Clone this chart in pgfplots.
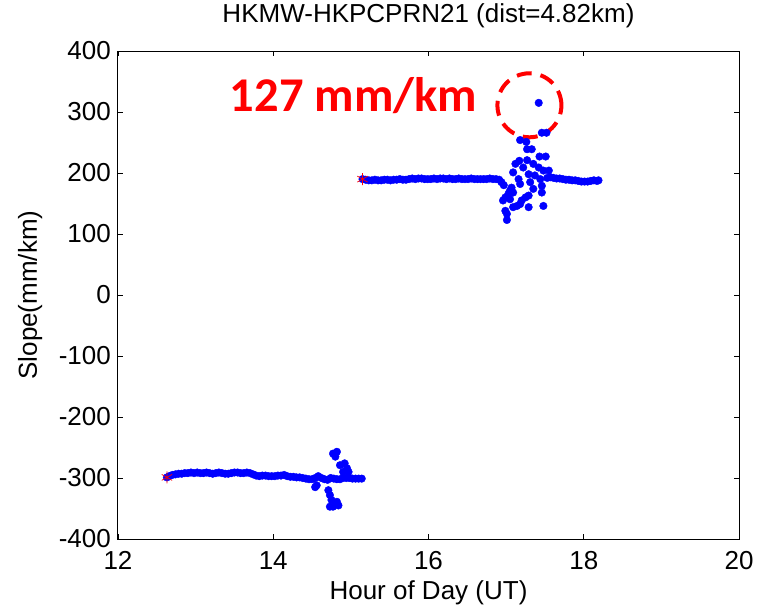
\documentclass[border=0pt]{standalone}
\usepackage{pgfplots}
\pgfplotsset{compat=1.18}
\usepackage{fontspec}
\setmainfont{Liberation Sans}
\newfontfamily\carlito{Carlito}
\pgfplotstableread{
x y
12.63 -299
12.66 -297
12.70 -295
12.74 -294
12.78 -293
12.82 -293
12.86 -292
12.90 -292
12.94 -291
12.98 -292
13.02 -291
13.06 -292
13.10 -292
13.14 -291
13.18 -292
13.22 -293
13.26 -292
13.30 -291
13.34 -292
13.38 -293
13.42 -293
13.46 -292
13.50 -291
13.54 -291
13.58 -292
13.62 -292
13.66 -291
13.70 -292
13.74 -294
13.78 -296
13.82 -297
13.86 -296
13.90 -296
13.94 -297
13.98 -297
14.02 -297
14.06 -296
14.10 -296
14.14 -295
14.18 -297
14.22 -298
14.26 -298
14.30 -299
14.34 -299
14.38 -300
14.42 -301
14.46 -302
14.50 -302
14.54 -300
14.58 -297
14.62 -300
14.66 -302
14.70 -303
14.74 -300
14.78 -301
14.82 -302
14.86 -302
14.90 -300
14.94 -300
14.98 -300
15.02 -301
15.06 -301
15.10 -301
15.14 -301
14.54 -315
14.56 -312
14.71 -320
14.73 -328
14.75 -336
14.82 -339
14.84 -345
14.77 -347
14.73 -347
14.77 -260
14.80 -265
14.82 -257
14.86 -279
14.92 -276
14.95 -284
14.97 -290
14.90 -290
}\lowseg
\pgfplotstableread{
x y
15.15 190
15.19 189
15.23 188
15.27 188
15.31 189
15.35 188
15.39 188
15.43 189
15.47 189
15.51 188
15.55 189
15.59 189
15.63 190
15.67 189
15.71 189
15.75 190
15.79 191
15.83 190
15.87 191
15.91 191
15.95 190
15.99 190
16.03 190
16.07 191
16.11 190
16.15 191
16.19 191
16.23 190
16.27 191
16.31 190
16.35 190
16.39 191
16.43 190
16.47 190
16.51 190
16.55 191
16.59 190
16.63 190
16.67 190
16.71 190
16.75 190
16.79 191
16.83 190
16.87 190
16.91 189
16.94 185
16.97 180
17.53 192
17.57 193
17.61 192
17.65 191
17.69 191
17.73 190
17.77 189
17.81 189
17.85 188
17.89 188
17.93 187
17.97 186
18.01 186
18.05 186
18.09 187
18.13 188
18.17 187
18.19 188
17.42 315
17.46 266
17.52 266
17.18 254
17.26 251
17.27 239
17.33 239
17.43 227
17.51 227
17.17 220
17.27 221
17.12 215
17.22 209
17.35 215
17.42 209
17.48 204
17.55 204
17.09 201
17.29 198
17.37 196
17.16 190
17.31 185
17.44 190
17.18 182
17.35 174
17.46 179
17.07 176
17.05 171
17.03 166
17.09 168
17.46 168
16.99 160
17.05 157
17.25 160
17.29 163
16.96 155
17.20 155
17.18 149
17.48 146
17.09 144
17.14 146
17.29 144
16.99 138
17.01 133
17.01 123
}\upseg
\begin{document}
\begin{tikzpicture}
\useasboundingbox (-118pt,-69pt) rectangle (644pt,539pt);
\begin{axis}[
  scale only axis, width=621pt, height=488pt,
  xmin=12, xmax=20, ymin=-400, ymax=400,
  xtick={12,14,16,18,20}, ytick={-400,-300,...,400},
  tick align=inside, major tick length=5pt,
  axis line style={line width=1pt}, every tick/.style={black, line width=0.8pt},
  /pgf/number format/assume math mode=true,
  ticklabel style={font=\fontsize{26}{30}\selectfont},
  xticklabel style={anchor=base, yshift=-30pt},
  yticklabel style={anchor=east, inner sep=0pt, xshift=-7pt},
  title={HKMW-HKPCPRN21 (dist=4.82km)},
  title style={font=\fontsize{26}{30}\selectfont, at={(axis description cs:0.5,1)}, anchor=base, yshift=23pt},
  xlabel={Hour of Day (UT)},
  xlabel style={font=\fontsize{26}{30}\selectfont, at={(axis description cs:0.5,0)}, anchor=base, yshift=-60pt},
  ylabel={Slope(mm/km)},
  ylabel style={font=\fontsize{26}{30}\selectfont, at={([xshift=-81pt]axis description cs:0,0.5)}, anchor=base},
]
\addplot[only marks, mark=*, mark size=3.8pt, mark options={fill=blue, draw=blue}] table[x=x,y=y] {\lowseg};
\addplot[only marks, mark=*, mark size=3.8pt, mark options={fill=blue, draw=blue}] table[x=x,y=y] {\upseg};
\addplot[only marks, mark=asterisk, mark size=6pt, red, mark options={line width=0.7pt}] coordinates {(12.63,-299) (15.15,190)};
\node[anchor=base west, inner sep=0pt, text=red, font=\carlito\bfseries\fontsize{48.5}{52}\selectfont] at (axis cs:13.44,301) {127 mm/km};
\draw[red, line width=4pt, dash pattern=on 15pt off 9pt] (axis cs:17.30,311) circle[radius=32pt];
\end{axis}
\end{tikzpicture}
\end{document}
